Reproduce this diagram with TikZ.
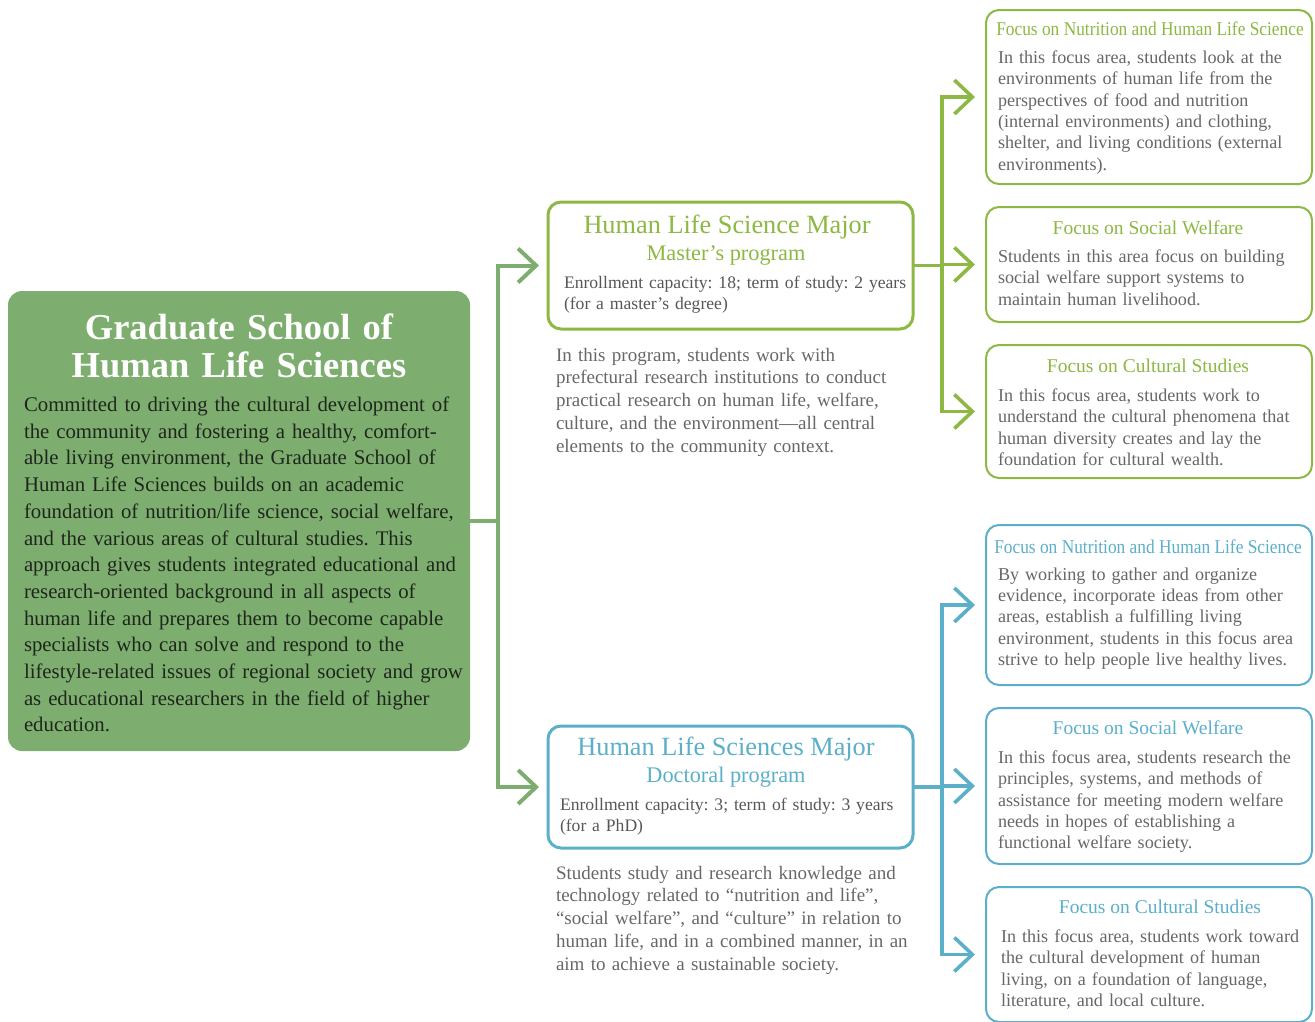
\documentclass[tikz,border=0pt]{standalone}
\usepackage{fontspec}
\usepackage{graphicx}
\setmainfont{Liberation Serif}
\usetikzlibrary{arrows.meta}
\definecolor{schoolfill}{HTML}{7DAE6F}
\definecolor{lgreen}{HTML}{7DAE6F}
\definecolor{mgreen}{HTML}{8DB843}
\definecolor{dblue}{HTML}{5BAFC9}
\definecolor{txtgray}{HTML}{676767}
\definecolor{darktxt}{HTML}{1E261C}
\begin{document}
\frenchspacing
\begin{tikzpicture}[x=1pt,y=-1pt,
  every node/.style={inner sep=0pt, outer sep=0pt},
  majorbox/.style={draw=#1, line width=3pt, rounded corners=13pt, fill=white, anchor=north west, minimum width=365pt},
  focusbox/.style={draw=#1, line width=2pt, rounded corners=13pt, fill=white, anchor=north west, minimum width=326pt},
  conn/.style={draw=#1, line width=3.6pt, -{Straight Barb[length=18pt,width=34pt]}},
  bodytxt/.style={anchor=north west, align=left, text=txtgray, font=\fontsize{18.1}{21.4}\selectfont, text width=330pt},
  ftitle/.style={anchor=base, text=#1, font=\fontsize{19.5}{22}\selectfont},
  mtitleA/.style={anchor=base, text=#1, font=\fontsize{26.3}{31}\selectfont},
  mtitleB/.style={anchor=base, text=#1, font=\fontsize{22.3}{31}\selectfont},
  enroll/.style={anchor=north west, align=left, text=txtgray!85!black, font=\fontsize{17.6}{21}\selectfont, text width=360pt},
  mdesc/.style={anchor=north west, align=left, text=txtgray, font=\fontsize{19.0}{22.75}\selectfont, text width=380pt}
]
\useasboundingbox (0,0) rectangle (1315,1021);

% main school box
\node[fill=schoolfill, rounded corners=14pt, minimum width=462pt, minimum height=460pt, anchor=north west] (school) at (8,291) {};
\node[anchor=north, align=center, text=white, text width=440pt, font=\fontsize{36.5}{38}\selectfont\bfseries] (schooltitle) at (239,314) {Graduate School of\\Human Life Sciences};
\node[anchor=north west, align=left, text=darktxt, text width=450pt, font=\fontsize{20.8}{26.67}\selectfont] (schoolbody) at (24,397) {Committed to driving the cultural development of\\the community and fostering a healthy, comfort-\\able living environment, the Graduate School of\\Human Life Sciences builds on an academic\\foundation of nutrition/life science, social welfare,\\and the various areas of cultural studies. This\\approach gives students integrated educational and\\research-oriented background in all aspects of\\human life and prepares them to become capable\\specialists who can solve and respond to the\\lifestyle-related issues of regional society and grow\\as educational researchers in the field of higher\\education.};

% master box
\node[majorbox=mgreen, minimum height=127pt] (master) at (548,202) {};
\node[mtitleA=mgreen] (mastertitle) at (727,233) {Human Life Science Major};
\node[mtitleB=mgreen] (mastersub) at (726,260) {Master’s program};
\node[enroll] (masterenroll) at (564,276) {Enrollment capacity: 18; term of study: 2 years\\(for a master’s degree)};
\node[mdesc] (masterdesc) at (556,348) {In this program, students work with\\prefectural research institutions to conduct\\practical research on human life, welfare,\\culture, and the environment—all central\\elements to the community context.};

% doctoral box
\node[majorbox=dblue, minimum height=122pt] (doctor) at (548,726) {};
\node[mtitleA=dblue] (doctortitle) at (726,755) {Human Life Sciences Major};
\node[mtitleB=dblue] (doctorsub) at (726,782) {Doctoral program};
\node[enroll] (doctorenroll) at (560,798) {Enrollment capacity: 3; term of study: 3 years\\(for a PhD)};
\node[mdesc] (doctordesc) at (556,866) {Students study and research knowledge and\\technology related to “nutrition and life”,\\“social welfare”, and “culture” in relation to\\human life, and in a combined manner, in an\\aim to achieve a sustainable society.};

% green focus boxes
\node[focusbox=mgreen, minimum height=174pt] (f1) at (986,10) {};
\node[ftitle=mgreen] (f1t) at (1150,35.4) {\scalebox{0.89}[1]{Focus on Nutrition and Human Life Science}};
\node[bodytxt] (f1b) at (998,50.5) {In this focus area, students look at the\\environments of human life from the\\perspectives of food and nutrition\\(internal environments) and clothing,\\shelter, and living conditions (external\\environments).};

\node[focusbox=mgreen, minimum height=115pt] (f2) at (986,207) {};
\node[ftitle=mgreen] (f2t) at (1148,234.4) {Focus on Social Welfare};
\node[bodytxt] (f2b) at (998,249.5) {Students in this area focus on building\\social welfare support systems to\\maintain human livelihood.};

\node[focusbox=mgreen, minimum height=133pt] (f3) at (986,345) {};
\node[ftitle=mgreen] (f3t) at (1148,372.4) {Focus on Cultural Studies};
\node[bodytxt] (f3b) at (998,388.5) {In this focus area, students work to\\understand the cultural phenomena that\\human diversity creates and lay the\\foundation for cultural wealth.};

% blue focus boxes
\node[focusbox=dblue, minimum height=160pt] (f4) at (986,525) {};
\node[ftitle=dblue] (f4t) at (1148,553.4) {\scalebox{0.89}[1]{Focus on Nutrition and Human Life Science}};
\node[bodytxt] (f4b) at (998,567.5) {By working to gather and organize\\evidence, incorporate ideas from other\\areas, establish a fulfilling living\\environment, students in this focus area\\strive to help people live healthy lives.};

\node[focusbox=dblue, minimum height=156pt] (f5) at (986,708) {};
\node[ftitle=dblue] (f5t) at (1148,734.4) {Focus on Social Welfare};
\node[bodytxt] (f5b) at (998,750.5) {In this focus area, students research the\\principles, systems, and methods of\\assistance for meeting modern welfare\\needs in hopes of establishing a\\functional welfare society.};

\node[focusbox=dblue, minimum height=135pt] (f6) at (986,887) {};
\node[ftitle=dblue] (f6t) at (1160,913.4) {Focus on Cultural Studies};
\node[bodytxt] (f6b) at (1001,929.5) {In this focus area, students work toward\\the cultural development of human\\living, on a foundation of language,\\literature, and local culture.};

% connectors
\draw[conn=lgreen, line width=4pt, shorten >=9pt] (school.east) -- ++(28,0) |- (master.west);
\draw[conn=lgreen, line width=4pt, shorten >=9pt] (school.east) -- ++(28,0) |- (doctor.west);
\draw[conn=mgreen, shorten >=11pt] (master.east) -- ++(29,0) |- (f1.west);
\draw[conn=mgreen, shorten >=11pt] (master.east) -- ++(29,0) |- (f2.west);
\draw[conn=mgreen, shorten >=11pt] (master.east) -- ++(29,0) |- (f3.west);
\draw[conn=dblue, shorten >=11pt] (doctor.east) -- ++(29,0) |- (f4.west);
\draw[conn=dblue, shorten >=11pt] (doctor.east) -- ++(29,0) |- (f5.west);
\draw[conn=dblue, shorten >=11pt] (doctor.east) -- ++(29,0) |- (f6.west);
\end{tikzpicture}
\end{document}
